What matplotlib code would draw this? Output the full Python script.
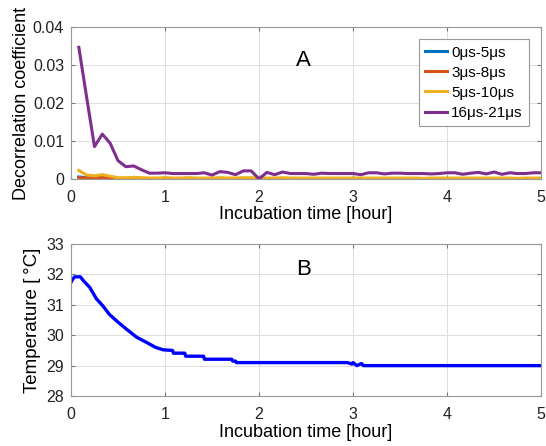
import matplotlib
matplotlib.use('Agg')
from matplotlib import pyplot as plt
import numpy as np

plt.rcParams['font.family'] = ['Liberation Sans', 'DejaVu Sans']

# decorrelation samples, every 5 min
t = np.arange(1, 61) / 12.0

purple = [0.0347, 0.0215, 0.0085, 0.0118, 0.0094, 0.0048, 0.0032, 0.0034, 0.0024, 0.0015,
          0.0015, 0.0016, 0.0014, 0.0014, 0.0014, 0.0014, 0.0016, 0.0010, 0.0019, 0.0017,
          0.0011, 0.0021, 0.0021, 0.0000, 0.0017, 0.0011, 0.0018, 0.0014, 0.0014, 0.0014,
          0.0012, 0.0015, 0.0014, 0.0014, 0.0014, 0.0014, 0.0011, 0.0016, 0.0016, 0.0013,
          0.0015, 0.0015, 0.0014, 0.0014, 0.0014, 0.0013, 0.0014, 0.0016, 0.0016, 0.0012,
          0.0015, 0.0017, 0.0013, 0.0018, 0.0012, 0.0016, 0.0014, 0.0014, 0.0016, 0.0016]
yellow = [0.0022, 0.0010, 0.0008, 0.0011, 0.0007, 0.0003, 0.0003, 0.0004, 0.0003, 0.0002,
          0.0002, 0.0003, 0.0002, 0.0002, 0.0003, 0.0002, 0.0002, 0.0002, 0.0003, 0.0002,
          0.0002, 0.0003, 0.0003, 0.0002, 0.0002, 0.0002, 0.0003, 0.0002, 0.0002, 0.0002,
          0.0002, 0.0002, 0.0002, 0.0002, 0.0002, 0.0002, 0.0002, 0.0002, 0.0002, 0.0002,
          0.0002, 0.0002, 0.0002, 0.0002, 0.0001, 0.0002, 0.0002, 0.0002, 0.0002, 0.0002,
          0.0002, 0.0002, 0.0002, 0.0002, 0.0002, 0.0002, 0.0001, 0.0002, 0.0002, 0.0002]
blue = [0.0005, 0.0003, 0.0002, 0.0005, 0.0002, 0.0000] + [0.0000] * 54
orange = [0.0003, 0.0002, 0.0002, 0.0003, 0.0002, 0.0001] + [0.0001] * 54
labels = ['0μs-5μs', '3μs-8μs', '5μs-10μs', '16μs-21μs']
colors = ['#0072BD', '#D95319', '#EDB120', '#7E2F8E']

# temperature log
temp_t = [0.0, 0.02, 0.04, 0.10, 0.13, 0.20, 0.27, 0.34, 0.41, 0.50, 0.59, 0.70, 0.80,
          0.90, 0.98, 1.08, 1.09, 1.21, 1.22, 1.41, 1.42, 1.71, 1.72, 1.75, 1.76,
          2.94, 2.99, 3.00, 3.04, 3.09, 3.11, 5.0]
temp = [31.74, 31.85, 31.92, 31.92, 31.80, 31.57, 31.20, 30.96, 30.68, 30.43, 30.20, 29.93, 29.77,
        29.60, 29.52, 29.50, 29.41, 29.41, 29.31, 29.31, 29.21, 29.21, 29.15, 29.15, 29.10,
        29.10, 29.05, 29.10, 29.00, 29.07, 29.00, 29.00]

fig = plt.figure(figsize=(5.46, 4.46), dpi=100)
ax1 = fig.add_axes([0.130, 0.599, 0.861, 0.340])
ax2 = fig.add_axes([0.130, 0.112, 0.861, 0.341])

for ys, lab, c in zip([blue, orange, yellow, purple], labels, colors):
    ax1.plot(t, ys, color=c, lw=2.2, label=lab)
ax2.plot(temp_t, temp, color='#0000FF', lw=2.4)

for ax in (ax1, ax2):
    ax.set_xlim(0, 5)
    ax.grid(True, color='#DDDDDD', lw=0.7)
    ax.tick_params(direction='in', top=True, right=True, labelsize=11.5, length=3,
                   color='#777777', labelcolor='#222222')
    ax.tick_params(axis='x', pad=8)
    ax.tick_params(axis='y', pad=5)
    for s in ax.spines.values():
        s.set_color('#999999')
    ax.set_xlabel('Incubation time [hour]', fontsize=13, labelpad=1)

ax1.set_ylim(0, 0.04)
ax1.set_yticks([0, 0.01, 0.02, 0.03, 0.04])
ax1.set_yticklabels(['0', '0.01', '0.02', '0.03', '0.04'])
ax1.set_ylabel('Decorrelation coefficient', fontsize=13, labelpad=2)
ax1.text(2.47, 0.0313, 'A', fontsize=16, ha='center', va='center')
leg = ax1.legend(loc='upper right', fontsize=11, handlelength=1.4, handletextpad=0.3,
                 labelspacing=0.4, borderpad=0.4, fancybox=False, framealpha=1,
                 borderaxespad=0.8)
leg.get_frame().set_edgecolor('#999999')
leg.get_frame().set_linewidth(0.8)

ax2.set_ylim(28, 33)
ax2.set_yticks([28, 29, 30, 31, 32, 33])
ax2.set_ylabel('Temperature [\u2009°C]', fontsize=13.5, labelpad=4)
ax2.text(2.47, 32.15, 'B', fontsize=16, ha='center', va='center')

fig.savefig('out.png', dpi=100)
